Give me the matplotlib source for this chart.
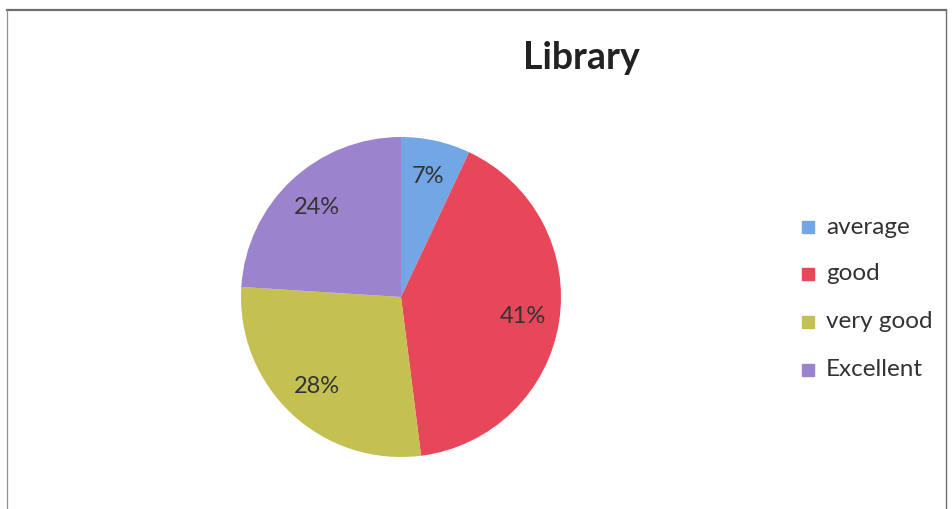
import matplotlib
matplotlib.use("Agg")
import matplotlib.pyplot as plt
from matplotlib.lines import Line2D

W, H = 952, 509

categories = ["average", "good", "very good", "Excellent"]
shares = [7, 41, 28, 24]
colors = ["#72a6e4", "#e8475a", "#c4c052", "#9c83cd"]

plt.rcParams["font.family"] = ["Lato", "DejaVu Sans"]

fig = plt.figure(figsize=(W / 100, H / 100), dpi=100)
fig.patch.set_facecolor("white")

# frame of the chart area (scanned Excel box)
fig.add_artist(Line2D([7 / W, 946 / W], [1 - 10 / H, 1 - 10 / H],
                      transform=fig.transFigure, color="#6e6e6e", lw=1.6))
fig.add_artist(Line2D([7 / W, 7 / W], [1 - 10 / H, 0],
                      transform=fig.transFigure, color="#9a8c8c", lw=0.9))
fig.add_artist(Line2D([946 / W, 946 / W], [1 - 10 / H, 0],
                      transform=fig.transFigure, color="#6e6e6e", lw=1.0))

cx, cy, r = 401, 297, 160
ax = fig.add_axes([(cx - r) / W, (H - cy - r) / H, 2 * r / W, 2 * r / H])

wedges, texts, autotexts = ax.pie(
    shares,
    colors=colors,
    startangle=90,
    counterclock=False,
    autopct="%d%%",
    pctdistance=0.77,
    wedgeprops={"linewidth": 0},
    textprops={"fontsize": 17, "color": "#333333"},
)
ax.set_xlim(-1, 1)
ax.set_ylim(-1, 1)

fig.text(581 / W, 1 - 58 / H, "Library", ha="center", va="center",
         fontsize=27, fontweight="bold", color="#222222")

# legend
rows_y = [227, 274, 322, 370]
for label, color, y in zip(categories, colors, rows_y):
    fig.patches.append(plt.Rectangle(((808 - 6) / W, 1 - (y + 6) / H), 12 / W, 12 / H,
                                     transform=fig.transFigure, color=color))
    fig.text(826 / W, 1 - y / H, label, ha="left", va="center",
             fontsize=17.5, color="#333333")

fig.savefig("out.png", dpi=100)
